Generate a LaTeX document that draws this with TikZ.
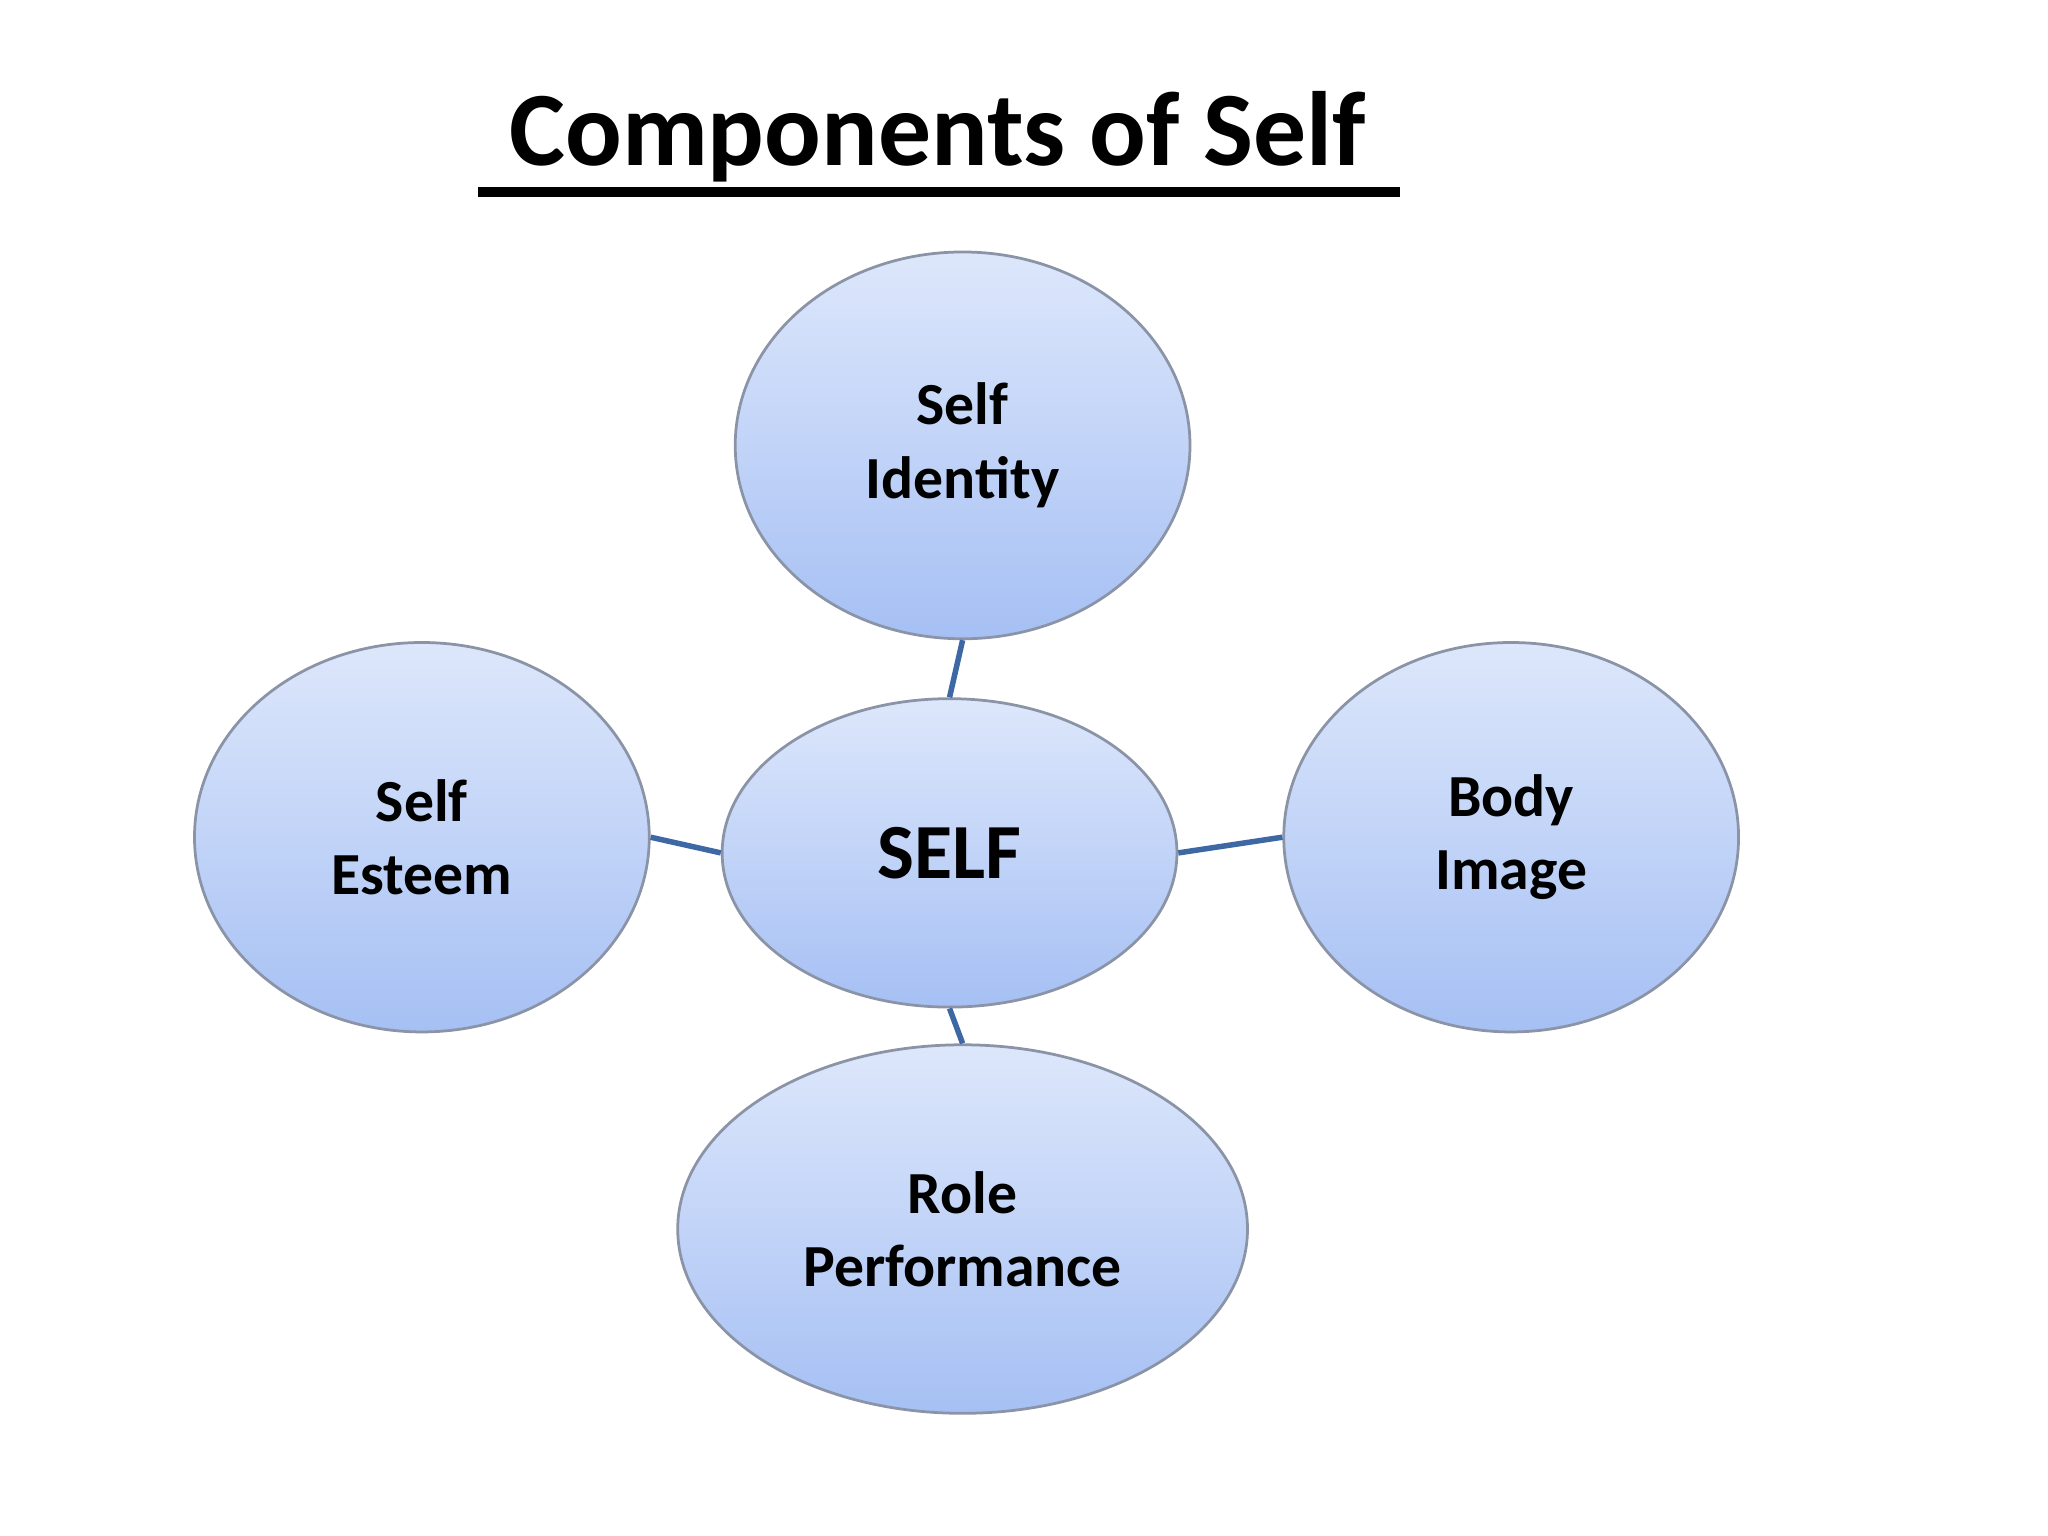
\documentclass[tikz,border=0pt]{standalone}
\usepackage{fontspec}
\setmainfont{Carlito}
\usetikzlibrary{shapes.geometric}
\definecolor{topc}{HTML}{DDE7FB}
\definecolor{botc}{HTML}{A6C0F4}
\definecolor{edgec}{HTML}{8A94A6}
\definecolor{linec}{HTML}{3D68A3}
\tikzset{
 bubble/.style={ellipse,draw=edgec,line width=0.6pt,top color=topc,bottom color=botc,inner sep=0pt,align=center,font=\bfseries\fontsize{13}{16}\selectfont},
 link/.style={draw=linec,line width=1.2pt}
}
\begin{document}
\begin{tikzpicture}[x=0.01cm,y=-0.01cm]
\useasboundingbox (0,0) rectangle (1568,1176);
\node[font=\bfseries\fontsize{23}{26}\selectfont] (title) at (718,105) {Components of Self};
\draw[line width=2pt] (366,147) -- (1072,147);
\node[bubble,minimum width=3.48cm,minimum height=2.96cm] (id) at (737,341) {Self\\Identity};
\node[bubble,minimum width=3.48cm,minimum height=2.36cm,font=\bfseries\fontsize{17}{20}\selectfont] (self) at (727,653) {SELF};
\node[bubble,minimum width=3.48cm,minimum height=2.98cm] (est) at (323,641) {Self\\Esteem};
\node[bubble,minimum width=3.48cm,minimum height=2.98cm] (body) at (1157,641) {Body\\Image};
\node[bubble,minimum width=4.36cm,minimum height=2.82cm] (role) at (737,941) {Role\\Performance};
\draw[link] (self.north) -- (id.south);
\draw[link] (self.south) -- (role.north);
\draw[link] (self.west) -- (est.east);
\draw[link] (self.east) -- (body.west);
\end{tikzpicture}
\end{document}
